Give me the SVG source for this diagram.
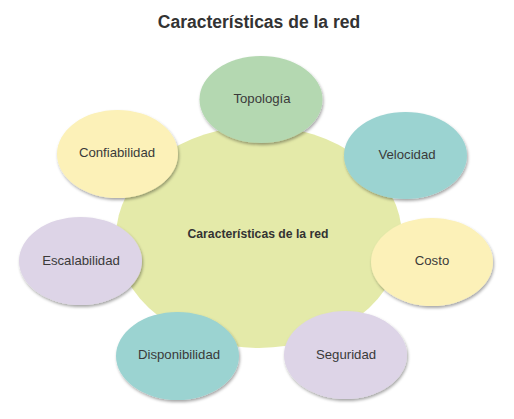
<svg xmlns="http://www.w3.org/2000/svg" width="514" height="419" viewBox="0 0 514 419">
<defs>
<filter id="sh" x="-20%" y="-20%" width="140%" height="150%">
<feDropShadow dx="1" dy="2" stdDeviation="1.5" flood-color="#000" flood-opacity="0.35"/>
</filter>
<style>
.t{font-family:"Liberation Sans",Arial,sans-serif;fill:#333;text-anchor:middle}
.title{font-size:17.5px;font-weight:bold}
.center{font-size:12.2px;font-weight:bold}
.lbl{font-size:13.2px;fill:#3a3a3a}
.green{fill:#b4d8b1}
.yellow{fill:#fcf1b8}
.teal{fill:#9bd3d1}
.lav{fill:#ddd4e7}
.core{fill:#e4eaa9}
.node{filter:url(#sh)}
</style>
</defs>
<rect width="514" height="419" fill="#fff"/>
<text class="t title" x="259" y="28">Características de la red</text>
<g id="center">
<ellipse class="core" cx="259" cy="237" rx="143" ry="111"/>
<text class="t center" x="258" y="238">Características de la red</text>
</g>
<g id="connectors"></g>
<g id="topologia">
<ellipse class="green node" cx="261" cy="99.5" rx="61.5" ry="43.5"/>
<text class="t lbl" x="262" y="103">Topología</text>
</g>
<g id="confiabilidad">
<ellipse class="yellow node" cx="117.5" cy="154" rx="60.5" ry="44"/>
<text class="t lbl" x="117" y="157">Confiabilidad</text>
</g>
<g id="velocidad">
<ellipse class="teal node" cx="405.5" cy="155.5" rx="61.5" ry="43.5"/>
<text class="t lbl" x="407" y="159">Velocidad</text>
</g>
<g id="escalabilidad">
<ellipse class="lav node" cx="80.5" cy="261" rx="61.5" ry="44"/>
<text class="t lbl" x="81" y="265">Escalabilidad</text>
</g>
<g id="costo">
<ellipse class="yellow node" cx="432" cy="262" rx="61" ry="44"/>
<text class="t lbl" x="432" y="265">Costo</text>
</g>
<g id="disponibilidad">
<ellipse class="teal node" cx="177.5" cy="356" rx="61.5" ry="44"/>
<text class="t lbl" x="179" y="359">Disponibilidad</text>
</g>
<g id="seguridad">
<ellipse class="lav node" cx="345.5" cy="355" rx="61.5" ry="44"/>
<text class="t lbl" x="346" y="359">Seguridad</text>
</g>
</svg>
